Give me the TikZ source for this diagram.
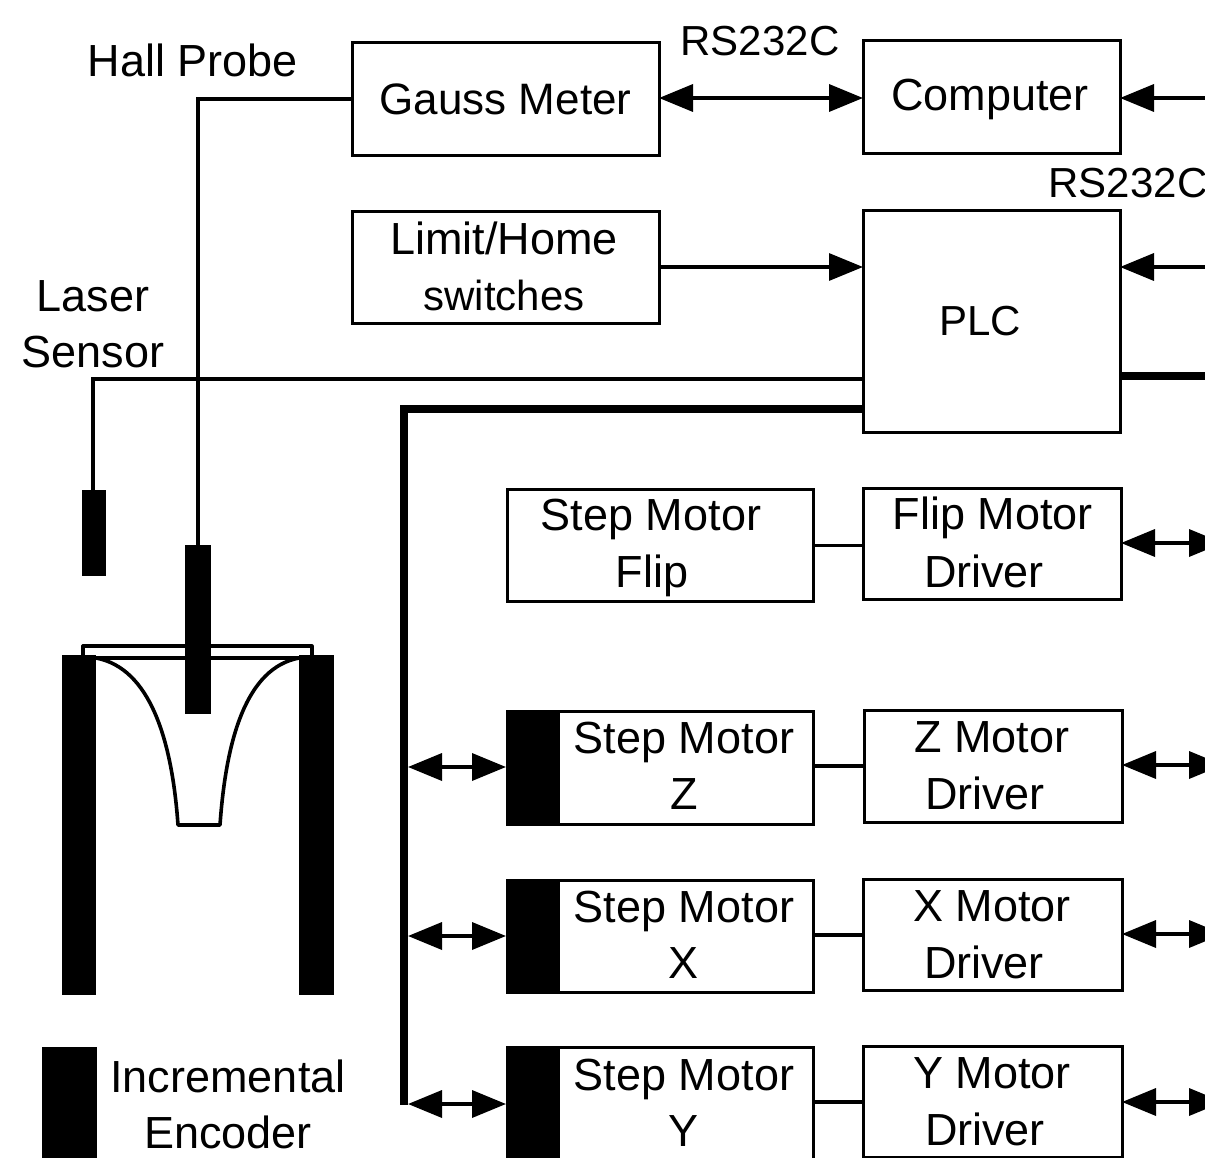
\documentclass[tikz,border=0pt]{standalone}
\usepackage{fontspec}
\setmainfont{Liberation Sans}
\usetikzlibrary{arrows.meta}
\tikzset{
  x=1pt,y=-1pt,
  boxn/.style={draw=black,line width=3pt,fill=white,inner sep=0pt,outer sep=0pt,align=center,font=\fontsize{45}{56}\selectfont},
  lab/.style={inner sep=0pt,outer sep=0pt,align=center,font=\fontsize{45}{56}\selectfont},
  small lab/.style={lab,font=\fontsize{42}{56}\selectfont},
  solid block/.style={fill=black,draw=none,inner sep=0pt,outer sep=0pt},
  wire/.style={line width=3.2pt,draw=black},
  thick wire/.style={line width=8pt,draw=black},
  tip/.tip={Triangle[length=34pt,width=27pt]},
  inarrow/.style={wire,line width=3.6pt,{tip}-},
  biarrow/.style={wire,line width=3.6pt,{tip}-{tip}},
}
\newcommand{\boxat}[7]{% name x1 y1 x2 y2 options text
  \node[boxn,#6,minimum width=#4pt-#2pt,minimum height=#5pt-#3pt] (#1) at ({(#2+#4)/2},{(#3+#5)/2}) {#7};}
\newcommand{\blockat}[5]{%
  \node[solid block,minimum width=#4pt-#2pt,minimum height=#5pt-#3pt] (#1) at ({(#2+#4)/2},{(#3+#5)/2}) {};}
\begin{document}
\begin{tikzpicture}
\useasboundingbox (0,0) rectangle (1205,1158);
\clip (0,0) rectangle (1205,1158);
\fill[white] (0,0) rectangle (1205,1158);
% boxes
\boxat{gauss}{352}{43}{659}{156}{font=\fontsize{44}{56}\selectfont}{Gauss Meter}
\boxat{computer}{863}{41}{1120}{154}{}{}
\boxat{limit}{352}{212}{659}{324}{}{}
\boxat{plc}{863}{211}{1120}{432}{}{}
\boxat{flipm}{507}{489}{813}{601}{}{}
\boxat{flipd}{863}{488}{1121}{599}{}{}
\boxat{zm}{507}{711}{813}{824}{}{}
\boxat{zd}{864}{710}{1122}{822}{}{}
\boxat{xm}{507}{880}{813}{992}{}{}
\boxat{xd}{863}{879}{1122}{990}{}{}
\boxat{ym}{507}{1047}{813}{1175}{}{}
\boxat{yd}{863}{1046}{1122}{1157}{}{}
% black encoder blocks
\blockat{ze}{506}{710}{560}{825}
\blockat{xe}{506}{879}{560}{993}
\blockat{ye}{506}{1046}{560}{1175}
\blockat{lege}{42}{1047}{97}{1158}
% texts
\node[lab] (compt) at (990,99) {Computer};
\node[lab] (limt1) at (504,238) {Limit/Home};
\node[small lab] (limt2) at (504,295) {switches};
\node[small lab] (plct) at (980,321) {PLC};
\node[lab] (flt1) at (651,519) {Step Motor};
\node[lab] (flt2) at (652,576) {Flip};
\node[lab] (fdt1) at (993,518) {Flip Motor};
\node[lab] (fdt2) at (984,571) {Driver};
\node[lab] (zt) at (684,766) {Step Motor\\Z};
\node[lab] (zdt1) at (992,737) {Z Motor};
\node[lab] (zdt2) at (985,793) {Driver};
\node[lab] (xt) at (684,935) {Step Motor\\X};
\node[lab] (xdt1) at (992,906) {X Motor};
\node[lab] (xdt2) at (984,962) {Driver};
\node[lab] (yt) at (684,1103) {Step Motor\\Y};
\node[lab] (ydt1) at (992,1073) {Y Motor};
\node[lab] (ydt2) at (985,1129) {Driver};
\node[lab] (hall) at (193,60) {Hall Probe};
\node[lab] (lasert) at (93,324) {Laser\\Sensor};
\node[small lab] (rs1) at (760,41) {RS232C};
\node[small lab] (rs2) at (1128,183) {RS232C};
\node[lab] (enct) at (228,1104) {Incremental\\Encoder};
% sensors and magnet
\blockat{laser}{82}{490}{106}{576}
\blockat{leftp}{62}{655}{96}{995}
\blockat{rightp}{299}{655}{334}{995}
\coordinate (framea) at (83,655);
\coordinate (frameb) at (83,646);
\coordinate (framec) at (312,646);
\coordinate (framed) at (312,655);
\draw[wire,line join=round] (framea) -- (frameb) -- (framec) -- (framed);
\draw[wire] (leftp.east |- 0,658) -- (rightp.west |- 0,658);
\coordinate (cupa) at (96,658);
\coordinate (cupb) at (178,825);
\coordinate (cupc) at (220,825);
\coordinate (cupd) at (299,658);
\draw[wire,line width=3.6pt,line join=round] (cupa) .. controls (150,668) and (172,740) .. (cupb) -- (cupc) .. controls (226,740) and (246,668) .. (cupd);
\blockat{probe}{185}{545}{211}{714}
% connectors
\coordinate (hallc) at (198,99);
\draw[wire,line width=3.6pt] (gauss.west |- hallc) -- (hallc) -- (probe.north -| hallc);
\coordinate (laserc) at (93,379);
\draw[wire] (plc.west |- laserc) -- (laserc) -- (laser.north -| laserc);
\coordinate (busa) at (404,409);
\coordinate (busb) at (404,1105);
\draw[thick wire] (plc.west |- busa) -- (busa) -- (busb);
\draw[biarrow] (gauss.east |- 0,98) -- (computer.west |- 0,98);
\draw[wire,-{tip}] (limit.east |- 0,267) -- (plc.west |- 0,267);
\coordinate (r1) at (1205,98);
\coordinate (r2) at (1205,267);
\coordinate (r3) at (1205,376);
\draw[inarrow] (computer.east |- r1) -- (r1);
\draw[inarrow] (plc.east |- r2) -- (r2);
\draw[thick wire] (plc.east |- r3) -- (r3);
\foreach \n/\y in {flipd/543,zd/765,xd/934,yd/1102}{
  \coordinate (r\n) at (1223,\y);
  \draw[biarrow] (\n.east |- r\n) -- (r\n);
}
\draw[wire,line width=3pt] (flipm.east |- 0,545) -- (flipd.west |- 0,545);
\draw[wire] (zm.east |- 0,766) -- (zd.west |- 0,766);
\draw[wire,line width=4pt] (xm.east |- 0,935) -- (xd.west |- 0,935);
\draw[wire,line width=3.6pt] (ym.east |- 0,1102) -- (yd.west |- 0,1102);
\coordinate (b1) at (408,767);
\coordinate (b2) at (408,936);
\coordinate (b3) at (408,1104);
\draw[biarrow] (b1) -- (ze.west |- b1);
\draw[biarrow] (b2) -- (xe.west |- b2);
\draw[biarrow] (b3) -- (ye.west |- b3);
\end{tikzpicture}
\end{document}
